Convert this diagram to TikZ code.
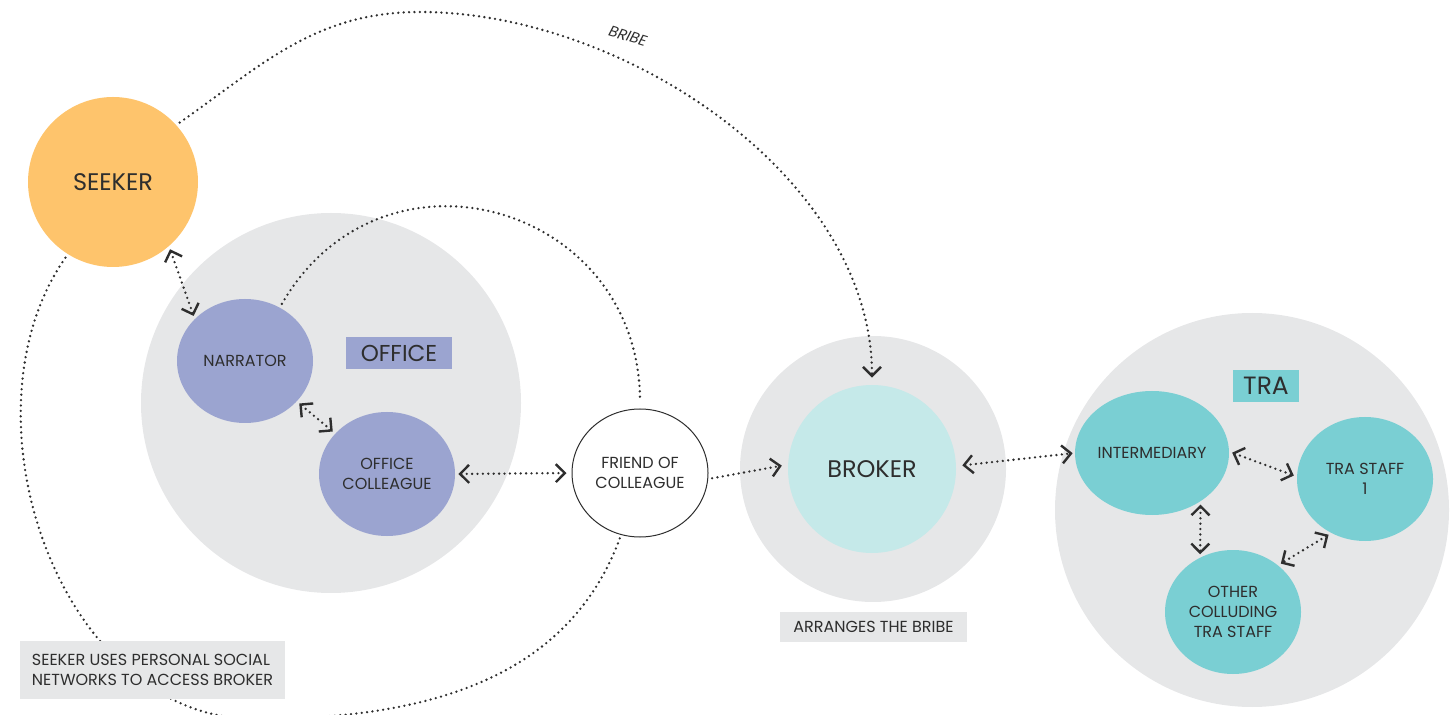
\documentclass[tikz,border=0pt]{standalone}
\usepackage{fontspec}
\setmainfont{Poppins}
\usetikzlibrary{arrows.meta, shapes.geometric, positioning}
\definecolor{ink}{HTML}{2E2E2E}
\definecolor{zonegray}{HTML}{E6E7E8}
\definecolor{seekerorange}{HTML}{FEC46C}
\definecolor{officeblue}{HTML}{9BA4D0}
\definecolor{brokerice}{HTML}{C5E9E9}
\definecolor{trateal}{HTML}{7ACFD3}
\tikzstyle{zone} = [circle, fill=zonegray, inner sep=0pt]
\tikzstyle{actor} = [ellipse, inner sep=0pt, minimum width=68pt, minimum height=62pt,
                     align=center, font=\fontsize{8}{10}\selectfont]
\tikzstyle{tag} = [rectangle, inner sep=0pt, align=left]
\tikzstyle{dots} = [line width=1.3pt, dash pattern=on 0pt off 2.7pt, line cap=round, draw=ink]
\tikzstyle{oneway} = [dots, -{Straight Barb[length=4.5pt,width=9pt,line width=1.2pt]}]
\tikzstyle{twoway} = [dots, {Straight Barb[length=4.5pt,width=9pt,line width=1.2pt]}-{Straight Barb[length=4.5pt,width=9pt,line width=1.2pt]},
                      shorten <=1.5pt, shorten >=1.5pt]

\begin{document}
\begin{tikzpicture}[x=0.5pt, y=0.5pt, every node/.style={text=ink}]
    \useasboundingbox (0,0) rectangle (1455,-715);

    % Grey zones
    \node[zone, minimum size=190pt] (officezone) at (331,-403) {};
    \node[zone, minimum size=133pt] (brokerzone) at (873,-469) {};
    \node[zone, minimum size=197pt] (trazone) at (1252,-510) {};

    % Actors
    \node[circle, fill=seekerorange, inner sep=0pt, minimum size=85pt, font=\fontsize{12}{14}\selectfont] (seeker) at (113,-182) {SEEKER};
    \node[actor, fill=officeblue] (narrator) at (245,-361) {NARRATOR};
    \node[actor, fill=officeblue] (colleague) at (387,-474) {OFFICE\\COLLEAGUE};
    \node[actor, fill=white, draw=ink, line width=0.5pt, minimum height=64pt] (friend) at (640,-473) {FRIEND OF\\COLLEAGUE};
    \node[circle, fill=brokerice, inner sep=0pt, minimum size=84pt, font=\fontsize{12}{14}\selectfont] (broker) at (872,-469) {BROKER};
    \node[actor, fill=trateal] (interm) at (1152,-453) {INTERMEDIARY};
    \node[actor, fill=trateal] (staff) at (1365,-479) {TRA STAFF\\1};
    \node[actor, fill=trateal] (others) at (1233,-612) {OTHER\\COLLUDING\\TRA STAFF};

    % Zone labels
    \node[tag, fill=officeblue, minimum width=53pt, minimum height=16pt, font=\fontsize{11.5}{13}\selectfont] (officelabel) at (399,-353) {OFFICE};
    \node[tag, fill=trateal, minimum width=33pt, minimum height=16pt, font=\fontsize{12.5}{14}\selectfont] (tralabel) at (1266,-386) {TRA};

    % Connectors
    \draw[twoway] (seeker.-49) -- (narrator.140);
    \draw[twoway] (narrator.-38) -- (colleague.142);
    \draw[twoway, shorten >=2.5pt] (colleague.east) -- (friend.west);
    \draw[oneway, shorten <=2pt, shorten >=3pt] (friend.-5) -- (broker.177);
    \draw[twoway, shorten <=3pt, shorten >=1pt] (broker.2) -- (interm.180);
    \draw[twoway] (interm.1) -- (staff.178);
    \draw[twoway] (interm.-45) -- (others.121);
    \draw[twoway] (staff.238) -- (others.46);

    % Long arcs
    \coordinate (bribetop) at (420,-12);
    \coordinate (loopbottom) at (255,-719);
    \draw[oneway, shorten <=2pt, shorten >=3.5pt] (seeker.42) to[out=35,in=180] (bribetop) to[out=0,in=90,looseness=0.9] (broker.north);
    \draw[dots, shorten <=2pt, shorten >=3.5pt] (narrator.57) to[out=60,in=90,looseness=1.4] (friend.north);
    \draw[dots, shorten <=2pt, shorten >=1pt] (seeker.238) to[out=235,in=180] (loopbottom) to[out=0,in=250] (friend.253);
    \node[rotate=-17, font=\fontsize{7.5}{9}\selectfont\itshape] (bribelabel) at (628,-36) {BRIBE};

    % Notes
    \node[tag, fill=zonegray, minimum width=93.5pt, minimum height=15pt, align=center, font=\fontsize{8}{10}\selectfont] (arranges) at (873.5,-627) {ARRANGES THE BRIBE};
    \node[tag, fill=zonegray, minimum width=132.5pt, minimum height=29pt, font=\fontsize{8}{10}\selectfont] (networks) at (152.5,-670) {SEEKER USES PERSONAL SOCIAL\\NETWORKS TO ACCESS BROKER};
\end{tikzpicture}
\end{document}
